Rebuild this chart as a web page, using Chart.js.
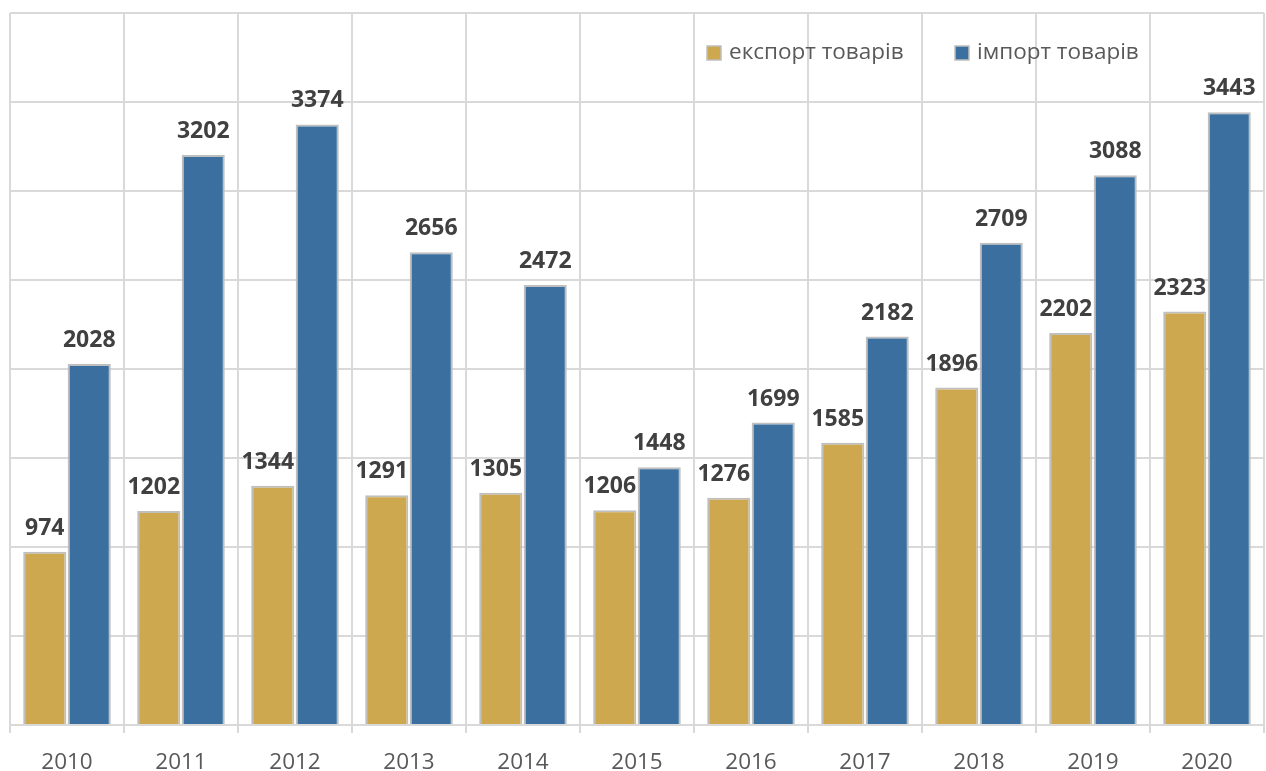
<!DOCTYPE html>
<html>
<head>
<meta charset="utf-8">
<script src="https://cdn.jsdelivr.net/npm/chart.js@4"></script>
<style>
  html, body { margin: 0; padding: 0; background: #fff; }
  #wrap { width: 1266px; height: 771px; }
</style>
</head>
<body>
<div id="wrap"><canvas id="myChart"></canvas></div>
<script>
var years = ['2010','2011','2012','2013','2014','2015','2016','2017','2018','2019','2020'];
var exportData = [974, 1202, 1344, 1291, 1305, 1206, 1276, 1585, 1896, 2202, 2323];
var importData = [2028, 3202, 3374, 2656, 2472, 1448, 1699, 2182, 2709, 3088, 3443];
var seriesNames = ['експорт товарів', 'імпорт товарів'];

// value labels above each bar
const valueLabels = {
  id: 'valueLabels',
  afterDatasetsDraw(chart) {
    const ctx = chart.ctx;
    ctx.save();
    ctx.font = 'bold 23px "Open Sans"';
    ctx.fillStyle = '#404040';
    ctx.textAlign = 'center';
    ctx.textBaseline = 'alphabetic';
    chart.data.datasets.forEach((ds, i) => {
      const meta = chart.getDatasetMeta(i);
      meta.data.forEach((bar, j) => {
        const shift = (i === 0 && ds.data[j] >= 1000) ? -5 : 0;
        ctx.fillText(ds.data[j], bar.x + shift, bar.y - 17);
      });
    });
    ctx.restore();
  }
};

// legend drawn inside the plot, top right
const innerLegend = {
  id: 'innerLegend',
  afterDraw(chart) {
    const ctx = chart.ctx;
    const pos = [707, 955];
    const y = 53;
    ctx.save();
    ctx.font = '22.5px "Open Sans"';
    ctx.textBaseline = 'middle';
    chart.data.datasets.forEach((ds, i) => {
      ctx.fillStyle = ds.backgroundColor;
      ctx.fillRect(pos[i], y - 7, 14, 14);
      ctx.strokeStyle = '#bfbfbf';
      ctx.lineWidth = 1.5;
      ctx.strokeRect(pos[i], y - 7, 14, 14);
      ctx.fillStyle = '#595959';
      ctx.textAlign = 'left';
      ctx.fillText(ds.label, pos[i] + 22, y);
    });
    ctx.restore();
  }
};

const data = {
  labels: years,
  datasets: [{
    label: seriesNames[0],
    backgroundColor: 'rgb(205, 168, 78)',
    borderColor: '#bfbfbf',
    borderWidth: 2,
    data: exportData,
    categoryPercentage: 0.78,
    barPercentage: 0.97
  }, {
    label: seriesNames[1],
    backgroundColor: 'rgb(58, 111, 160)',
    borderColor: '#bfbfbf',
    borderWidth: 2,
    data: importData,
    categoryPercentage: 0.78,
    barPercentage: 0.97
  }]
};

const config = {
  type: 'bar',
  data: data,
  options: {
    responsive: true,
    maintainAspectRatio: false,
    animation: false,
    layout: { padding: { left: 10, right: 2, top: 13, bottom: 0 } },
    plugins: {
      legend: { display: false },
      tooltip: { enabled: false }
    },
    scales: {
      x: {
        offset: true,
        afterFit: function(scale) { scale.height = 46; },
        grid: {
          offset: true,
          color: '#d9d9d9',
          lineWidth: 2,
          tickLength: 8
        },
        border: { color: '#d9d9d9', width: 2 },
        ticks: {
          color: '#595959',
          font: { family: 'Open Sans', size: 22.5 },
          padding: 16
        }
      },
      y: {
        min: 0,
        max: 4000,
        ticks: { display: false, stepSize: 500 },
        grid: { color: '#d9d9d9', lineWidth: 2, drawTicks: false },
        border: { display: false }
      }
    }
  },
  plugins: [valueLabels, innerLegend]
};

const myChart = new Chart(document.getElementById('myChart'), config);
</script>
</body>
</html>
